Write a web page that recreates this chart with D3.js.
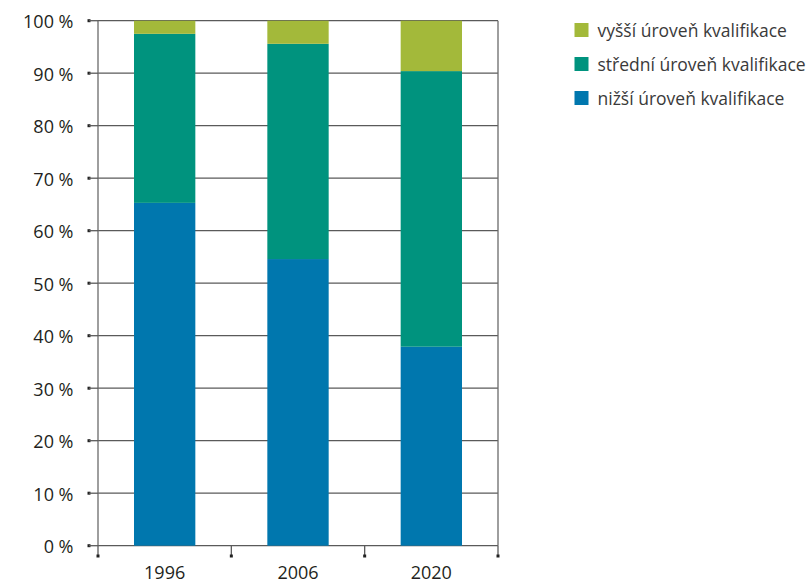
<!DOCTYPE html>
<html><head><meta charset="utf-8">
<script src="https://cdn.jsdelivr.net/npm/d3@7"></script>
<style>
body{margin:0;background:#fff;}
text{font-family:"Open Sans","Noto Sans",sans-serif;}
</style></head>
<body><svg id="c" width="812" height="582"></svg>
<script>
const years = ["1996","2006","2020"];
const seriesNames = ["nižší úroveň kvalifikace","střední úroveň kvalifikace","vyšší úroveň kvalifikace"];
const lower = [65.3, 54.6, 37.9];
const middle = [32.2, 41.0, 52.5];
const higher = [2.5, 4.4, 9.6];
const colors = ["#0077AE","#00937E","#A3B93A"];
const yTicks = [0,10,20,30,40,50,60,70,80,90,100];

const svg = d3.select("#c");
const L=98, R=498, T=20.7, B=545.7;
const x = d3.scaleBand().domain(years).range([L,R]).paddingInner(0.54).paddingOuter(0.27);
const y = d3.scaleLinear().domain([0,100]).range([B,T]);

const table = years.map((yr,i)=>({year:yr, low:lower[i], mid:middle[i], high:higher[i]}));
const stack = d3.stack().keys(["low","mid","high"])(table);

// grid
svg.append("g").selectAll("line").data(yTicks).join("line")
  .attr("x1",L).attr("x2",R).attr("y1",d=>y(d)).attr("y2",d=>y(d))
  .attr("stroke","#5a5a5a").attr("stroke-width",1.3);
// frame verticals
svg.append("line").attr("x1",L).attr("x2",L).attr("y1",T).attr("y2",B).attr("stroke","#6a6a6a").attr("stroke-width",1.3);
svg.append("line").attr("x1",R).attr("x2",R).attr("y1",T).attr("y2",B).attr("stroke","#6a6a6a").attr("stroke-width",1.3);

// bars
svg.append("g").selectAll("g").data(stack).join("g").attr("fill",(d,i)=>colors[i])
  .selectAll("rect").data(d=>d).join("rect")
  .attr("x",d=>x(d.data.year)).attr("width",x.bandwidth())
  .attr("y",d=>y(d[1])).attr("height",d=>y(d[0])-y(d[1]));

// left axis ticks (small squares) + labels
const ya = svg.append("g");
ya.selectAll("rect").data(yTicks).join("rect")
  .attr("x",87.5).attr("y",d=>y(d)-1.5).attr("width",3).attr("height",3).attr("fill","#222");
ya.selectAll("line").data(yTicks).join("line")
  .attr("x1",89).attr("x2",L).attr("y1",d=>y(d)).attr("y2",d=>y(d)).attr("stroke","#5a5a5a").attr("stroke-width",1.3);
ya.selectAll("text").data(yTicks).join("text")
  .attr("x",73.5).attr("y",d=>y(d)+7.4).attr("text-anchor","end")
  .attr("font-size",18).attr("fill","#231f20").text(d=>d+" %");

// bottom axis
const edges = [L, ...years.map((yr,i)=>L+(R-L)*(i+1)/years.length)];
const xa = svg.append("g");
xa.selectAll("line").data(edges).join("line")
  .attr("x1",d=>d).attr("x2",d=>d).attr("y1",B).attr("y2",555).attr("stroke","#5a5a5a").attr("stroke-width",1.3);
xa.selectAll("rect").data(edges).join("rect")
  .attr("x",d=>d-1.5).attr("y",554.5).attr("width",3).attr("height",3).attr("fill","#222");
xa.selectAll("text").data(years).join("text")
  .attr("x",d=>x(d)+x.bandwidth()/2).attr("y",578.5).attr("text-anchor","middle")
  .attr("font-size",18).attr("fill","#231f20").text(d=>d);

// legend (reverse order)
const leg = svg.append("g");
const legItems = [2,1,0];
legItems.forEach((si,k)=>{
  const cy = 30 + k*34;
  leg.append("rect").attr("x",574.5).attr("y",cy-7).attr("width",14).attr("height",14).attr("fill",colors[si]);
  leg.append("text").attr("x",597.5).attr("y",cy+6.8).attr("font-size",17.5)
    .attr("fill","#3a3a3a").text(seriesNames[si]);
});
</script></body></html>
